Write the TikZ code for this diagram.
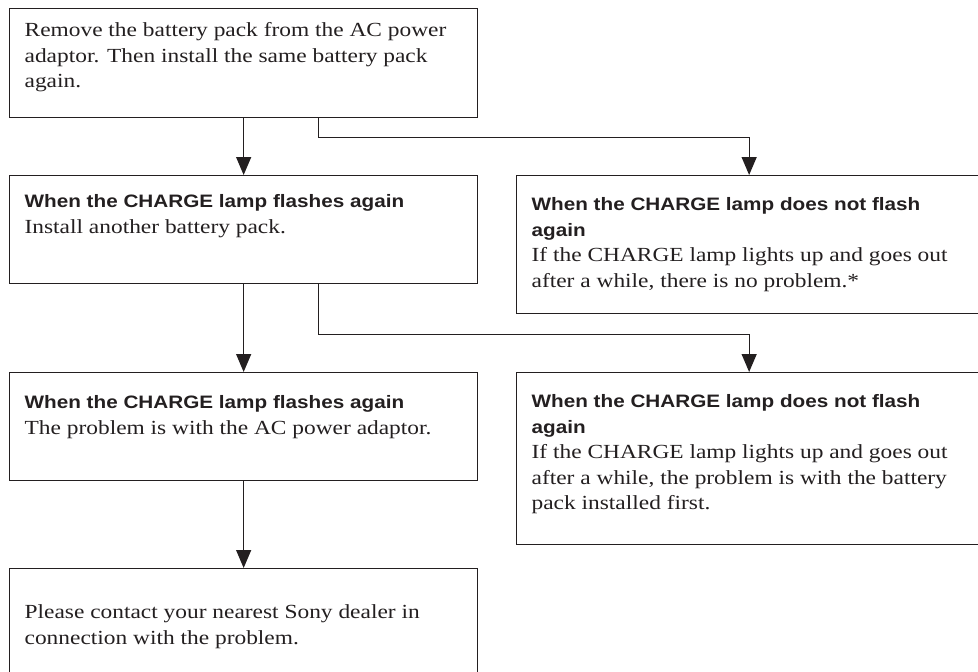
\documentclass[tikz,border=0pt]{standalone}
\usepackage{fontspec}
\setmainfont{Liberation Serif}[FakeStretch=1.17]
\newfontfamily\headfont{Liberation Sans}[FakeStretch=1.15]
\usetikzlibrary{arrows.meta, positioning}
\definecolor{ink}{HTML}{231F20}
\newcommand{\steptext}[4]{\begin{minipage}[t][#1][t]{#2}\raggedright\rule{0pt}{#3}#4\end{minipage}}
\newcommand{\heading}[1]{{\headfont\bfseries\fontsize{18}{26}\selectfont #1}}

\begin{document}
\begin{tikzpicture}[
    x=1pt, y=-1pt,
    >={Triangle[length=18pt, width=15pt]},
    stepbox/.style={
        draw=ink,
        line width=1.3pt,
        text=ink,
        anchor=north west,
        inner xsep=15pt,
        inner ysep=0pt,
        font=\fontsize{20}{25.5}\selectfont
    },
    link/.style={draw=ink, line width=1.3pt, ->}
]
\useasboundingbox (0,0) rectangle (978,672);
\clip (0,0) rectangle (978,672);

\node[stepbox] (remove) at (9,8) {\steptext{109pt}{438pt}{28pt}{Remove the battery pack from the AC power\\ adaptor. Then install the same battery pack\\ again.}};
\node[stepbox] (flash1) at (9,175) {\steptext{108pt}{438pt}{32pt}{\heading{When the CHARGE lamp flashes again}\\ Install another battery pack.}};
\node[stepbox] (noflash1) at (516,175) {\steptext{138pt}{435pt}{35pt}{\heading{When the CHARGE lamp does not flash\\ again}\\ If the CHARGE lamp lights up and goes out\\ after a while, there is no problem.*}};
\node[stepbox] (flash2) at (9,372) {\steptext{108pt}{438pt}{36pt}{\heading{When the CHARGE lamp flashes again}\\ The problem is with the AC power adaptor.}};
\node[stepbox] (noflash2) at (516,372) {\steptext{172pt}{435pt}{35pt}{\heading{When the CHARGE lamp does not flash\\ again}\\ If the CHARGE lamp lights up and goes out\\ after a while, the problem is with the battery\\ pack installed first.}};
\node[stepbox] (contact) at (9,568) {\steptext{115pt}{438pt}{50pt}{Please contact your nearest Sony dealer in\\ connection with the problem.}};

\draw[link] (remove.south) -- (flash1.north);
\draw[link] ([xshift=75pt]remove.south) -- ++(0,19) -| (noflash1.north);
\draw[link] (flash1.south) -- (flash2.north);
\draw[link] ([xshift=75pt]flash1.south) -- ++(0,50) -| (noflash2.north);
\draw[link] (flash2.south) -- (contact.north);
\end{tikzpicture}
\end{document}
